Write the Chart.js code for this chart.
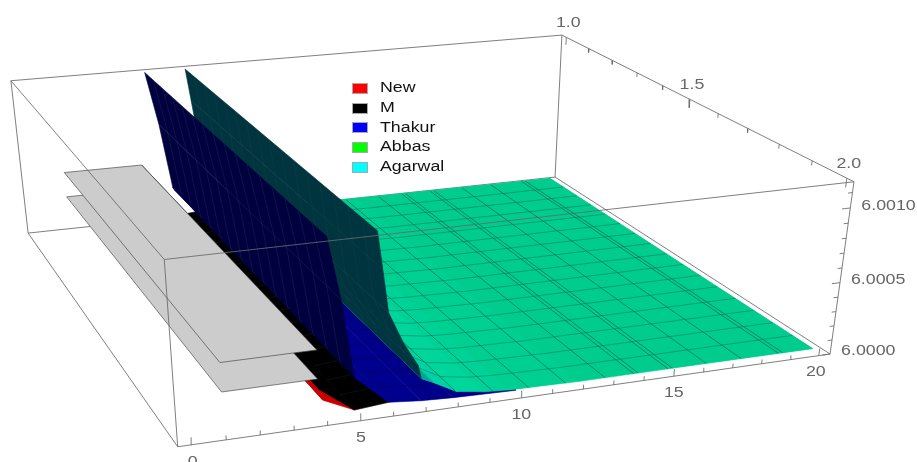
<!DOCTYPE html>
<html><head><meta charset="utf-8">
<style>html,body{margin:0;padding:0;background:#fff}canvas{display:block}</style>
<script src="https://cdn.jsdelivr.net/npm/chart.js@4"></script>
</head><body><canvas id="c" width="917" height="462"></canvas>
<script>
// ---- data ----
const seriesNames = ["New","M","Thakur","Abbas","Agarwal"];
const legendColors = ["#ff0000","#000000","#0000ff","#00ff00","#00ffff"];
const xTickLabels = ["0","5","10","15","20"];
const yTickLabels = ["1.0","1.5","2.0"];
const zTickLabels = ["6.0000","6.0005","6.0010"];
const xNew = [3.86,4.0,4.95];
const zNew = [6.00028,6.000136,6.00004];
const xM = [3.86,3.9,4.95,6.0];
const zM = [6.00047,6.00021,6.00004,6.00006];
const xThakur = [4.22,4.6,4.95,5.0,6.0,7.0,8.0,10.0];
const zThakur = [6.00117,6.00077,6.00027,6.00025,6.00006,6.00004,6.00003,6.00002];
const xAbbas = [7.0,7.4,8.1,9.8,20.0];
const zAbbas = [6.00019,6.00015,6.00007,6.00003,6.00002];
const xAgarwal = [5.68,5.83,6.0,6.45,6.9,7.0,7.4,8.1,9.0,9.8,12.0,15.0,20.0];
const zAgarwal = [6.00117,6.00093,6.00065,6.00044,6.00028,6.00019,6.00015,6.00007,6.00004,6.00003,6.00002,6.00002,6.00002];
const clipX = [1.05,3.86];
const clipZNew = 6.00028;
const clipZM = 6.00047;
const meshXGreen = [8.05,9.25,10.4,11.6,12.9,13.85,14.0,15.0,15.15,16.3,17.5,18.8,18.95];
const meshYCount = 15;
const xRange=[-0.4,20.4], yRange=[0.98,2.02], zRange=[6.0,6.00117];

// ---- view: where the eight box corners fall on the page ----
const viewCorners=[
 [0,1,0,178,447],[1,1,0,830,354],[1,0,0,555,177],[0,0,0,28,233],
 [0,1,1,164,259],[1,1,1,854,182],[1,0,1,562,35],[0,0,1,11,81]];
function solve(A,b){const n=b.length;const M=A.map((r,i)=>[...r,b[i]]);
 for(let i=0;i<n;i++){let p=i;for(let k=i+1;k<n;k++)if(Math.abs(M[k][i])>Math.abs(M[p][i]))p=k;[M[i],M[p]]=[M[p],M[i]];
  for(let k=0;k<n;k++){if(k===i)continue;const f=M[k][i]/M[i][i];for(let j=i;j<=n;j++)M[k][j]-=f*M[i][j];}}
 return M.map((r,i)=>r[n]/r[i]);}
const cam=(()=>{const R=[],B=[];
 for(const [a,b,c,u,v] of viewCorners){
  R.push([a,b,c,1,0,0,0,0,-u*a,-u*b,-u*c]);B.push(u);
  R.push([0,0,0,0,a,b,c,1,-v*a,-v*b,-v*c]);B.push(v);}
 const N=Array.from({length:11},()=>Array(11).fill(0)),Y=Array(11).fill(0);
 R.forEach((r,k)=>{for(let i=0;i<11;i++){Y[i]+=r[i]*B[k];for(let j=0;j<11;j++)N[i][j]+=r[i]*r[j];}});
 return solve(N,Y);})();
function proj(x,y,z){
 const a=(x-xRange[0])/(xRange[1]-xRange[0]),b=(y-yRange[0])/(yRange[1]-yRange[0]),c=(z-zRange[0])/(zRange[1]-zRange[0]);
 const w=cam[8]*a+cam[9]*b+cam[10]*c+1;
 return {x:(cam[0]*a+cam[1]*b+cam[2]*c+cam[3])/w,y:(cam[4]*a+cam[5]*b+cam[6]*c+cam[7])/w};}

const datasets=[];
function poly(pts,fill,border,bw){const c=[...pts,pts[0]];datasets.push({data:c.map(p=>proj(...p)),showLine:true,fill:'shape',backgroundColor:fill,borderColor:border||fill,borderWidth:bw===undefined?0.6:bw,pointRadius:0,tension:0});}
function line(pts,color,w){datasets.push({data:pts.map(p=>p?proj(...p):{x:NaN,y:NaN}),showLine:true,fill:false,borderColor:color,borderWidth:w||1,pointRadius:0,tension:0,spanGaps:false});}
function strips(xs,zs,from,to,colors){for(let i=from;i<to;i++){
 const col=Array.isArray(colors)?colors[i-from]:colors;
 poly([[xs[i],1,zs[i]],[xs[i+1],1,zs[i+1]],[xs[i+1],2,zs[i+1]],[xs[i],2,zs[i]]],col);}}
function crossMesh(xs,zs,from,to,color){const pts=[];
 for(let k=1;k<=meshYCount;k++){const y=1+k/(meshYCount+1);for(let i=from;i<=to;i++)pts.push([xs[i],y,zs[i]]);pts.push(null);}
 line(pts,color,0.7);}
function alongMesh(xs,zs,list,color){const p=[];list.forEach(x=>{const z=zAt(xs,zs,x);p.push([x,1,z],[x,2,z],null);});line(p,color,0.7);}
function zAt(xs,zs,x){for(let i=0;i<xs.length-1;i++)if(x>=xs[i]&&x<=xs[i+1]){const t=(x-xs[i])/(xs[i+1]-xs[i]);return zs[i]+t*(zs[i+1]-zs[i]);}return zs[zs.length-1];}

// box: back edges first
const X0=xRange[0],X1=xRange[1],Y0=yRange[0],Y1=yRange[1],Z0=zRange[0],Z1=zRange[1];
const boxCol='rgba(105,105,105,0.85)';
line([[X0,Y0,Z0],[X1,Y0,Z0],null,[X1,Y0,Z0],[X1,Y0,Z1],null,[X0,Y0,Z0],[X0,Y0,Z1],null,[X0,Y0,Z1],[X1,Y0,Z1],null,[X1,Y0,Z0],[X1,Y1,Z0]],boxCol,1);

// red and black lie lowest
strips(xNew,zNew,0,1,'#860000');
strips(xNew,zNew,1,2,'#c80000');
strips(xM,zM,0,3,'#000000');
crossMesh(xM,zM,2,3,'rgba(50,50,50,0.4)');
// blue top side
strips(xThakur,zThakur,3,7,['#00009a','#00008e','#00008a','#000088']);
crossMesh(xThakur,zThakur,3,7,'rgba(0,0,60,0.5)');
alongMesh(xThakur,zThakur,[5.6,6.25,7.5,8.75],'rgba(0,0,70,0.5)');
// green top side
strips(xAbbas,zAbbas,0,4,'#00cc8e');
strips(xAgarwal,zAgarwal,5,12,['#00a89c','#00d2a4','#00d59c','#00d297','#00cf92','#00cc8e','#00cc8e']);
crossMesh(xAgarwal,zAgarwal,5,12,'rgba(0,60,50,0.45)');
alongMesh(xAgarwal,zAgarwal,meshXGreen,'rgba(0,45,35,0.6)');
// teal wall, seen from below
strips(xAgarwal,zAgarwal,0,5,'#00353f');
crossMesh(xAgarwal,zAgarwal,0,5,'rgba(70,90,90,0.18)');
alongMesh(xAgarwal,zAgarwal,[6.0],'rgba(70,90,90,0.18)');
// navy wall, seen from below
strips(xThakur,zThakur,0,3,'#00003f');
crossMesh(xThakur,zThakur,0,3,'rgba(90,90,120,0.28)');
alongMesh(xThakur,zThakur,[4.6],'rgba(90,90,120,0.28)');
// clipped plates
const plateGray='#cccccc',plateEdge='rgba(60,60,60,0.9)';
poly([[clipX[0],1,clipZNew],[clipX[1],1,clipZNew],[clipX[1],2,clipZNew],[clipX[0],2,clipZNew]],plateGray,plateEdge,0.7);
poly([[clipX[0],1,clipZM],[clipX[1],1,clipZM],[clipX[1],2,clipZM],[clipX[0],2,clipZM]],plateGray,plateEdge,0.7);
// box: front edges on top
line([[X0,Y1,Z0],[X1,Y1,Z0],null,[X0,Y1,Z0],[X0,Y1,Z1],null,[X0,Y1,Z1],[X1,Y1,Z1],null,[X0,Y1,Z1],[X0,Y0,Z1],null,[X1,Y1,Z0],[X1,Y1,Z1],null,[X0,Y0,Z0],[X0,Y1,Z0],null,[X1,Y0,Z1],[X1,Y1,Z1]],boxCol,1);
// ticks
const tk=[];
for(let i=0;i<=20;i++){const h=i%5===0?0.00005:0.00003;tk.push([i,Y1,Z0],[i,Y1,Z0+h],null);}
for(let i=0;i<=10;i++){const y=1+i/10,h=i%5===0?0.00006:0.00003;tk.push([X1,y,Z1],[X1,y,Z1-h],null);}
for(let i=0;i<=11;i++){const z=6+i*0.0001,h=i%5===0?0.28:0.15;tk.push([X1,Y1,z],[X1-h,Y1,z],null);}
line(tk,boxCol,1);

datasets.forEach((d,i)=>{d.order=-i;});

const STRETCH=1.27;
const xLabelShift=[1,0,0,0,-3], yLabelShift=[[2,-14],[2,-14],[2,-14]], zLabelDrop=[-3,-3,-2];
function wideText(ctx,t,x,y,align){ctx.save();ctx.translate(x,y);ctx.scale(STRETCH,1);ctx.textAlign=align||'center';ctx.textBaseline='middle';ctx.fillText(t,0,0);ctx.restore();}
const textPlugin={id:'labels',afterDraw(chart){
 const ctx=chart.ctx;ctx.save();ctx.font='14px "Liberation Sans"';
 ctx.fillStyle='#666666';
 xTickLabels.forEach((t,i)=>{const p=proj(i*5,Y1,Z0);wideText(ctx,t,p.x+xLabelShift[i],p.y+17);});
 yTickLabels.forEach((t,i)=>{const p=proj(X1,1+i*0.5,Z1);wideText(ctx,t,p.x+yLabelShift[i][0],p.y+yLabelShift[i][1]);});
 zTickLabels.forEach((t,i)=>{const p=proj(X1,Y1,6+i*0.0005);wideText(ctx,t,p.x+11,p.y+zLabelDrop[i],'left');});
 const top0=88.5,step=19.7;
 seriesNames.forEach((t,i)=>{const y=top0+i*step;
  ctx.fillStyle=legendColors[i];ctx.fillRect(352,Math.round(y-5.5),16,11);
  ctx.strokeStyle='#a8a8a8';ctx.lineWidth=1;ctx.strokeRect(352.5,Math.round(y-5.5)+.5,15,10);
  ctx.fillStyle='#111111';wideText(ctx,t,380,y,'left');});
 ctx.restore();}};

new Chart(document.getElementById('c'),{type:'scatter',data:{datasets},plugins:[textPlugin],options:{
 responsive:false,animation:false,events:[],layout:{padding:0},
 plugins:{legend:{display:false},tooltip:{enabled:false},title:{display:false}},
 scales:{x:{type:'linear',display:false,min:0,max:917},y:{type:'linear',display:false,min:0,max:462,reverse:true}}}});
</script></body></html>
